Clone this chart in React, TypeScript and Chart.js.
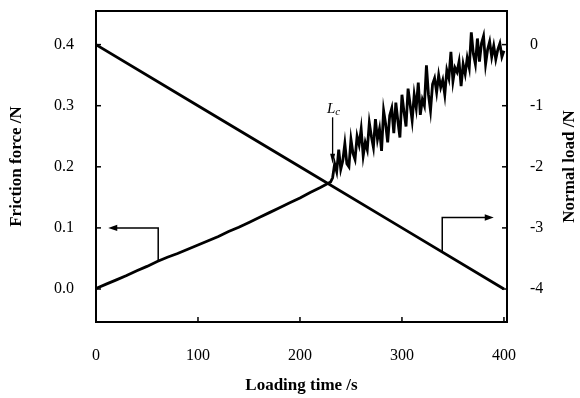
import React, { useEffect, useRef } from "react";
import { Chart, registerables } from "chart.js";

Chart.register(...registerables);

// ---------- data ----------
const xTicks = [0, 100, 200, 300, 400];
const frictionTicks = [0, 0.1, 0.2, 0.3, 0.4];
const loadTicks = [0, -1, -2, -3, -4];

// friction force (N) vs loading time (s)
const frictionTime = [
  0, 10, 20, 30, 40, 50, 60, 70, 80, 90, 100, 110, 120, 130, 140, 150, 160, 170, 180, 190, 200, 210, 220, 230,
  232, 234, 236, 238, 240, 242, 244, 246, 248, 250, 252, 254, 256, 258, 260, 262, 264, 266, 268, 270,
  272, 274, 276, 278, 280, 282, 284, 286, 288, 290, 292, 294, 296, 298, 300, 302, 304, 306, 308, 310,
  312, 314, 316, 318, 320, 322, 324, 326, 328, 330, 332, 334, 336, 338, 340, 342, 344, 346, 348, 350,
  352, 354, 356, 358, 360, 362, 364, 366, 368, 370, 372, 374, 376, 378, 380, 382, 384, 386, 388, 390,
  392, 394, 396, 398, 400,
];
const frictionForce = [
  0.001, 0.008, 0.015, 0.022, 0.030, 0.037, 0.045, 0.052, 0.058, 0.065, 0.072, 0.079, 0.086, 0.094, 0.101,
  0.109, 0.117, 0.125, 0.133, 0.141, 0.149, 0.158, 0.166, 0.175,
  0.182, 0.205, 0.192, 0.228, 0.196, 0.210, 0.238, 0.205, 0.200, 0.245, 0.222, 0.212, 0.250, 0.236, 0.262,
  0.218, 0.240, 0.228, 0.272, 0.250, 0.232, 0.278, 0.245, 0.262, 0.226, 0.292, 0.270, 0.240, 0.284, 0.296,
  0.255, 0.305, 0.275, 0.248, 0.318, 0.290, 0.266, 0.328, 0.302, 0.276, 0.318, 0.296, 0.338, 0.285, 0.310,
  0.300, 0.366, 0.318, 0.292, 0.335, 0.345, 0.322, 0.350, 0.330, 0.342, 0.318, 0.358, 0.345, 0.388, 0.340,
  0.362, 0.355, 0.372, 0.332, 0.368, 0.352, 0.378, 0.362, 0.420, 0.385, 0.368, 0.410, 0.372, 0.402, 0.414,
  0.368, 0.392, 0.405, 0.380, 0.398, 0.376, 0.392, 0.402, 0.380, 0.390,
];

// normal load (N) vs loading time (s)
const loadTime = [0, 100, 200, 300, 400];
const normalLoad = [0, -1, -2, -3, -4];

// annotation anchors (data units)
const leftArrow = { xFrom: 61, yFrom: 0.046, yTo: 0.1, xTip: 12 }; // friction axis
const rightArrow = { xFrom: 339.5, yFrom: -3.395, yTo: -2.83, xTip: 390 }; // load axis
const lcArrow = { x: 232, yTop: 0.281, yTip: 0.205 }; // friction axis
const lcLabel = { x: 226.5, y: 0.288 };

const SERIF = '"Liberation Serif", "Times New Roman", serif';

function toPoints(xs: number[], ys: number[]) {
  return xs.map((x, i) => ({ x, y: ys[i] }));
}

const decorPlugin = {
  id: "decor",
  afterDatasetsDraw(chart: any) {
    const { ctx, chartArea: a, scales } = chart;
    const sx = scales.x;
    const sy = scales.y;
    const sy1 = scales.y1;
    ctx.save();
    ctx.strokeStyle = "#000";
    ctx.fillStyle = "#000";

    // frame
    ctx.lineWidth = 2;
    ctx.strokeRect(a.left, a.top, a.right - a.left, a.bottom - a.top);

    // inward ticks
    ctx.lineWidth = 1.5;
    const seg = (x1: number, y1: number, x2: number, y2: number) => {
      ctx.beginPath();
      ctx.moveTo(x1, y1);
      ctx.lineTo(x2, y2);
      ctx.stroke();
    };
    xTicks.forEach((v) => {
      const p = sx.getPixelForValue(v);
      seg(p, a.bottom, p, a.bottom - 5);
    });
    frictionTicks.forEach((v) => {
      const p = sy.getPixelForValue(v);
      seg(a.left, p, a.left + 5, p);
    });
    loadTicks.forEach((v) => {
      const p = sy1.getPixelForValue(v);
      seg(a.right, p, a.right - 5, p);
    });

    const head = (tx: number, ty: number, dir: "left" | "right" | "down", len: number, half: number) => {
      ctx.beginPath();
      ctx.moveTo(tx, ty);
      if (dir === "left") {
        ctx.lineTo(tx + len, ty - half);
        ctx.lineTo(tx + len, ty + half);
      } else if (dir === "right") {
        ctx.lineTo(tx - len, ty - half);
        ctx.lineTo(tx - len, ty + half);
      } else {
        ctx.lineTo(tx - half, ty - len);
        ctx.lineTo(tx + half, ty - len);
      }
      ctx.closePath();
      ctx.fill();
    };

    // left arrow (points to friction axis)
    ctx.lineWidth = 1.5;
    {
      const x0 = sx.getPixelForValue(leftArrow.xFrom);
      const y0 = sy.getPixelForValue(leftArrow.yFrom);
      const y1 = sy.getPixelForValue(leftArrow.yTo);
      const xt = sx.getPixelForValue(leftArrow.xTip);
      ctx.beginPath();
      ctx.moveTo(x0, y0);
      ctx.lineTo(x0, y1);
      ctx.lineTo(xt + 6, y1);
      ctx.stroke();
      head(xt, y1, "left", 9, 3.2);
    }
    // right arrow (points to load axis)
    {
      const x0 = sx.getPixelForValue(rightArrow.xFrom);
      const y0 = sy1.getPixelForValue(rightArrow.yFrom);
      const y1 = sy1.getPixelForValue(rightArrow.yTo);
      const xt = sx.getPixelForValue(rightArrow.xTip);
      ctx.beginPath();
      ctx.moveTo(x0, y0);
      ctx.lineTo(x0, y1);
      ctx.lineTo(xt - 6, y1);
      ctx.stroke();
      head(xt, y1, "right", 9, 3.2);
    }
    // Lc arrow
    {
      const x0 = sx.getPixelForValue(lcArrow.x);
      const y0 = sy.getPixelForValue(lcArrow.yTop);
      const yt = sy.getPixelForValue(lcArrow.yTip);
      ctx.lineWidth = 1.3;
      ctx.beginPath();
      ctx.moveTo(x0, y0);
      ctx.lineTo(x0, yt - 6);
      ctx.stroke();
      head(x0, yt, "down", 10, 2.5);
    }
    // Lc label
    {
      const lx = sx.getPixelForValue(lcLabel.x);
      const ly = sy.getPixelForValue(lcLabel.y);
      ctx.textBaseline = "alphabetic";
      ctx.textAlign = "left";
      ctx.font = `italic 15px ${SERIF}`;
      ctx.fillText("L", lx, ly);
      const w = ctx.measureText("L").width;
      ctx.font = `italic 11px ${SERIF}`;
      ctx.fillText("c", lx + w, ly + 2);
    }

    // right axis title (reads bottom to top)
    ctx.translate(574, (a.top + a.bottom) / 2);
    ctx.rotate(-Math.PI / 2);
    ctx.font = `bold 17px ${SERIF}`;
    ctx.textAlign = "center";
    ctx.textBaseline = "alphabetic";
    ctx.fillText("Normal load /N", 0, 0);
    ctx.restore();
  },
};

const fixVertical = (width: number) => (s: any) => {
  s.width = width;
  s.paddingTop = 0;
  s.paddingBottom = 0;
};

export default function App() {
  const ref = useRef<HTMLCanvasElement>(null);

  useEffect(() => {
    const tickFont = { family: SERIF, size: 16 };
    const chart = new Chart(ref.current as HTMLCanvasElement, {
      type: "line",
      data: {
        datasets: [
          {
            label: "Friction force",
            data: toPoints(frictionTime, frictionForce),
            yAxisID: "y",
            borderColor: "#000",
            borderWidth: 2.8,
            pointRadius: 0,
            tension: 0,
            fill: false,
          },
          {
            label: "Normal load",
            data: toPoints(loadTime, normalLoad),
            yAxisID: "y1",
            borderColor: "#000",
            borderWidth: 2.8,
            pointRadius: 0,
            tension: 0,
            fill: false,
          },
        ],
      },
      options: {
        animation: false,
        responsive: false,
        devicePixelRatio: 1,
        layout: { padding: { top: 11, left: 0, right: 0, bottom: 0 } },
        plugins: {
          legend: { display: false },
          tooltip: { enabled: false },
        },
        scales: {
          x: {
            type: "linear",
            min: 0,
            max: 403,
            afterBuildTicks: (s: any) => {
              s.ticks = xTicks.map((v) => ({ value: v }));
            },
            afterFit: (s: any) => {
              s.height = 76;
              s.paddingLeft = 0;
              s.paddingRight = 0;
            },
            grid: { display: false, drawTicks: false },
            border: { display: false },
            ticks: {
              color: "#000",
              font: tickFont,
              padding: 24,
              maxRotation: 0,
              callback: (v: any) => String(v),
            },
            title: {
              display: true,
              text: "Loading time /s",
              color: "#000",
              font: { family: SERIF, size: 17, weight: "bold" },
              padding: { top: 0, bottom: 2 },
            },
          },
          y: {
            type: "linear",
            position: "left",
            min: -0.054,
            max: 0.455,
            afterBuildTicks: (s: any) => {
              s.ticks = frictionTicks.map((v) => ({ value: v }));
            },
            afterFit: fixVertical(96),
            grid: { display: false, drawTicks: false },
            border: { display: false },
            ticks: {
              color: "#000",
              font: tickFont,
              padding: 22,
              callback: (v: any) => Number(v).toFixed(1),
            },
            title: {
              display: true,
              text: "Friction force /N",
              color: "#000",
              font: { family: SERIF, size: 17, weight: "bold" },
              padding: { top: 6, bottom: 0 },
            },
          },
          y1: {
            type: "linear",
            position: "right",
            min: -4.54,
            max: 0.55,
            afterBuildTicks: (s: any) => {
              s.ticks = loadTicks.map((v) => ({ value: v }));
            },
            afterFit: fixVertical(73),
            grid: { display: false, drawTicks: false },
            border: { display: false },
            ticks: {
              color: "#000",
              font: tickFont,
              padding: 23,
              callback: (v: any) => String(v),
            },
          },
        },
      },
      plugins: [decorPlugin],
    } as any);
    return () => chart.destroy();
  }, []);

  return (
    <div style={{ position: "fixed", left: 0, top: 0, width: 580, height: 398, background: "#fff" }}>
      <canvas ref={ref} width={580} height={398} style={{ display: "block", width: 580, height: 398 }} />
    </div>
  );
}
